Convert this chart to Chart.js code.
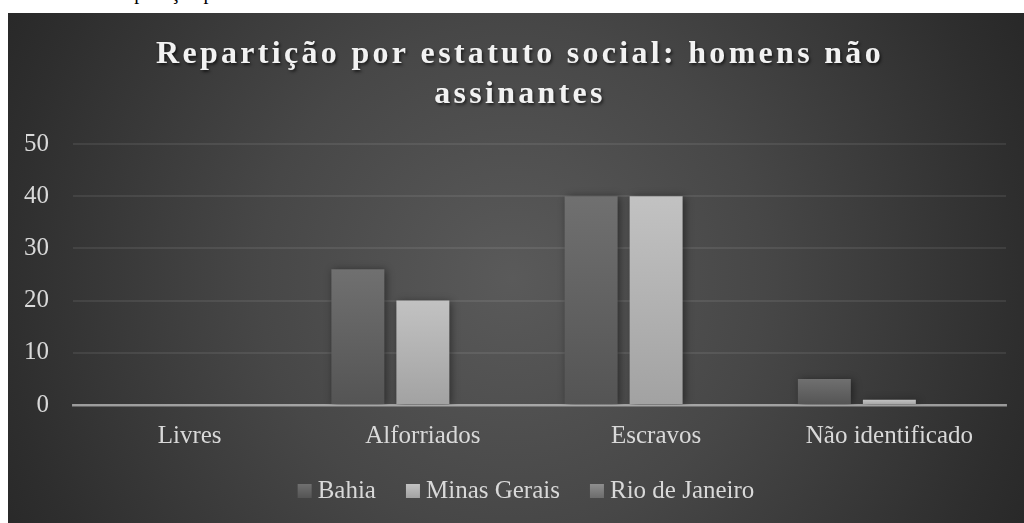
<!DOCTYPE html>
<html>
<head>
<meta charset="utf-8">
<script src="https://cdn.jsdelivr.net/npm/chart.js@4.4.1/dist/chart.umd.min.js"></script>
<style>
  html, body { margin: 0; padding: 0; background: #fff; width: 1024px; height: 523px; overflow: hidden; }
  #caption { position: absolute; left: 112px; top: -18px; font: 20px/20px "Liberation Serif", serif; color: #000; white-space: nowrap; }
  #panel {
    position: absolute; left: 8px; top: 13px; width: 1016px; height: 510px;
    background: radial-gradient(circle farthest-corner at 49.6% 52%, #5a5a5a 0px, #474747 253px, #2e2e2e 508px, #262626 600px);
  }
  canvas { display: block; }
</style>
</head>
<body>
<div id="caption">Repartição por estatuto social: homens não assinantes</div>
<div id="panel"><canvas id="chart" width="1016" height="510"></canvas></div>
<script>
// Categories and series
const categories = ['Livres', 'Alforriados', 'Escravos', 'Não identificado'];
const bahia = [0, 26, 40, 5];
const minasGerais = [0, 20, 40, 1];
const rioDeJaneiro = [0, 0, 0, 0];
const seriesNames = ['Bahia', 'Minas Gerais', 'Rio de Janeiro'];
const yTicks = [0, 10, 20, 30, 40, 50];
const titleLines = ['Repartição por estatuto social: homens não', 'assinantes'];

// Fill colours (top → bottom of each bar)
const fills = [
  ['#707070', '#545454'],
  ['#c2c2c2', '#a2a2a2'],
  ['#8e8e8e', '#6c6c6c']
];

const FONT = '"Liberation Serif", "Times New Roman", serif';

function barFill(pair) {
  return (ctx) => {
    if (ctx.type !== 'data' || !ctx.parsed) return pair[0];
    const chart = ctx.chart;
    const ys = chart.scales.y;
    if (!ys) return pair[0];
    const yTop = ys.getPixelForValue(ctx.parsed.y);
    const yBase = ys.getPixelForValue(0);
    if (!isFinite(yTop) || !isFinite(yBase) || Math.abs(yBase - yTop) < 1) return pair[0];
    const g = chart.ctx.createLinearGradient(0, yTop, 0, yBase);
    g.addColorStop(0, pair[0]);
    g.addColorStop(1, pair[1]);
    return g;
  };
}

// Soft shadow behind the bars
const barShadow = {
  id: 'barShadow',
  beforeDatasetsDraw(chart) {
    const c = chart.ctx;
    c.save();
    c.shadowColor = 'rgba(0,0,0,0.45)';
    c.shadowBlur = 8;
    c.shadowOffsetX = 2;
    c.shadowOffsetY = 1;
  },
  afterDatasetsDraw(chart) { chart.ctx.restore(); }
};

// Letter-spaced title with a light shadow
const spacedTitle = {
  id: 'spacedTitle',
  afterDraw(chart) {
    const c = chart.ctx;
    c.save();
    c.font = 'bold 32px ' + FONT;
    c.fillStyle = '#f2f2f2';
    c.textAlign = 'center';
    c.textBaseline = 'alphabetic';
    if ('letterSpacing' in c) c.letterSpacing = '3.3px';
    c.shadowColor = 'rgba(0,0,0,0.6)';
    c.shadowBlur = 3;
    c.shadowOffsetX = 1.5;
    c.shadowOffsetY = 1.5;
    const cx = chart.width / 2 + 4;
    titleLines.forEach((line, i) => c.fillText(line, cx, 50 + i * 40));
    c.restore();
  }
};

// Legend row at the bottom
const swatchLegend = {
  id: 'swatchLegend',
  afterDraw(chart) {
    const c = chart.ctx;
    c.save();
    c.font = '25px ' + FONT;
    const box = 14, gapText = 6, gapItem = 30;
    const items = chart.data.datasets.map((ds, i) => ({ label: ds.label, w: c.measureText(ds.label).width, fill: fills[i] }));
    const total = items.reduce((s, it) => s + box + gapText + it.w, 0) + gapItem * (items.length - 1);
    let x = chart.width / 2 + 10 - total / 2;
    const base = chart.height - 25;
    items.forEach((it) => {
      const g = c.createLinearGradient(0, base - box, 0, base);
      g.addColorStop(0, it.fill[0]);
      g.addColorStop(1, it.fill[1]);
      c.fillStyle = g;
      c.fillRect(x, base - box, box, box);
      x += box + gapText;
      c.fillStyle = '#d9d9d9';
      c.textBaseline = 'alphabetic';
      c.textAlign = 'left';
      c.fillText(it.label, x, base);
      x += it.w + gapItem;
    });
    c.restore();
  }
};

const seriesValues = [bahia, minasGerais, rioDeJaneiro];

new Chart(document.getElementById('chart'), {
  type: 'bar',
  data: {
    labels: categories,
    datasets: seriesValues.map((vals, i) => ({
      label: seriesNames[i],
      data: vals,
      backgroundColor: barFill(fills[i]),
      borderWidth: 0,
      barPercentage: 0.815,
      categoryPercentage: 0.836
    }))
  },
  options: {
    responsive: false,
    animation: false,
    devicePixelRatio: 1,
    layout: { padding: { top: 131, right: 18, bottom: 72, left: 0 } },
    plugins: {
      legend: { display: false },
      title: { display: false },
      tooltip: { enabled: false }
    },
    scales: {
      x: {
        z: 1,
        grid: { display: false, drawTicks: false },
        border: { display: true, color: 'rgba(217,217,217,0.6)', width: 2.5 },
        ticks: { color: '#d9d9d9', font: { family: FONT, size: 25 }, padding: 16, maxRotation: 0 },
        afterFit(scale) { scale.height = 46; }
      },
      y: {
        min: yTicks[0],
        max: yTicks[yTicks.length - 1],
        ticks: { stepSize: yTicks[1] - yTicks[0], color: '#d9d9d9', font: { family: FONT, size: 25 }, padding: 24 },
        grid: { color: 'rgba(255,255,255,0.08)', lineWidth: 2, drawTicks: false },
        border: { display: false },
        afterFit(scale) { scale.width = 65; }
      }
    }
  },
  plugins: [barShadow, spacedTitle, swatchLegend]
});
</script>
</body>
</html>
